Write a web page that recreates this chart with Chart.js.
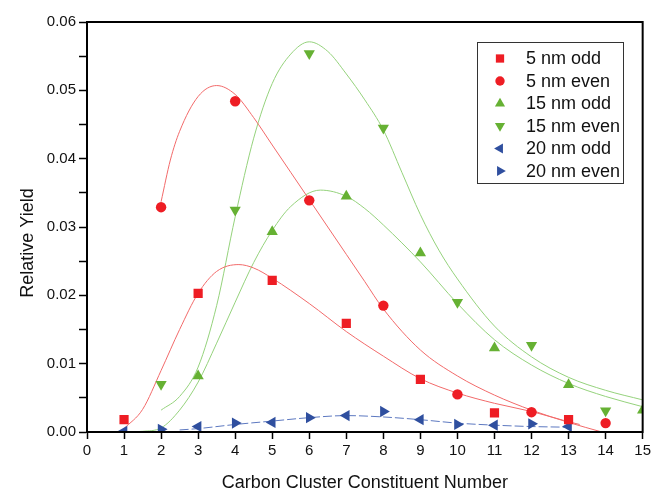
<!DOCTYPE html>
<html>
<head>
<meta charset="utf-8">
<script src="https://cdn.jsdelivr.net/npm/chart.js@4.4.0/dist/chart.umd.min.js"></script>
<style>
  html, body { margin: 0; padding: 0; background: #fff; }
</style>
</head>
<body>
<canvas id="chart" width="654" height="494"></canvas>
<script>
// --- measured points (cluster size n -> relative yield) ---
const n5Odd = [1, 3, 5, 7, 9, 11, 13];
const y5Odd = [0.0018, 0.0203, 0.0222, 0.0159, 0.0077, 0.0028, 0.0018];
const n5Even = [2, 4, 6, 8, 10, 12, 14];
const y5Even = [0.0329, 0.0484, 0.0339, 0.0185, 0.0055, 0.0029, 0.0013];
const n15Odd = [3, 5, 7, 9, 11, 13, 15];
const y15Odd = [0.0082, 0.0293, 0.0345, 0.0262, 0.0123, 0.0069, 0.0032];
const n15Even = [2, 4, 6, 8, 10, 12, 14];
const y15Even = [0.0070, 0.0325, 0.0554, 0.0445, 0.0190, 0.0127, 0.0031];
const n20Odd = [1, 3, 5, 7, 9, 11, 13];
const y20Odd = [0.0001, 0.0008, 0.0014, 0.0024, 0.0018, 0.0010, 0.0008];
const n20Even = [2, 4, 6, 8, 10, 12];
const y20Even = [0.0004, 0.0013, 0.0021, 0.0030, 0.0011, 0.0012];

// --- fitted curves ---
const fx5Odd = [1, 1.5, 2, 2.5, 3, 3.5, 4.1, 4.5, 5, 6, 7, 8, 9, 10, 11, 12, 13, 13.3];
const fy5Odd = [0.0005, 0.0033, 0.0090, 0.0150, 0.0203, 0.0235, 0.0245, 0.0240, 0.0225, 0.0188, 0.0147, 0.0111, 0.0078, 0.0057, 0.0042, 0.0030, 0.0015, 0.0011];
const fx5Even = [2, 2.25, 2.5, 3, 3.5, 4, 4.5, 5, 5.5, 6, 6.5, 7, 7.5, 8, 9, 10, 11, 12, 13, 13.9];
const fy5Even = [0.0337, 0.0398, 0.0440, 0.0491, 0.0507, 0.0494, 0.0460, 0.0420, 0.0380, 0.0340, 0.0300, 0.0260, 0.0220, 0.0180, 0.0120, 0.0082, 0.0054, 0.0032, 0.0014, 0.0000];
const fx15Odd = [1, 1.5, 2, 2.5, 3, 3.5, 4, 4.5, 5, 5.5, 6.3, 7, 7.5, 8, 9, 10, 11, 12, 13, 14, 15];
const fy15Odd = [0.0000, 0.0001, 0.0006, 0.0032, 0.0073, 0.0130, 0.0190, 0.0248, 0.0295, 0.0330, 0.0354, 0.0345, 0.0327, 0.0303, 0.0249, 0.0188, 0.0135, 0.0098, 0.0071, 0.0052, 0.0037];
const fx15Even = [2, 2.5, 3, 3.5, 4, 4.5, 5, 5.5, 6, 6.5, 7, 7.5, 8, 8.5, 9, 9.5, 10, 11, 12, 13, 14, 15];
const fy15Even = [0.0032, 0.0052, 0.0095, 0.0185, 0.0315, 0.0430, 0.0510, 0.0553, 0.0571, 0.0557, 0.0524, 0.0486, 0.0442, 0.0380, 0.0318, 0.0266, 0.0224, 0.0155, 0.0110, 0.0080, 0.0061, 0.0047];
const fx20 = [2.5, 3, 4, 5, 6, 7, 8, 9, 10, 11, 12, 13];
const fy20 = [0.0003, 0.0005, 0.0011, 0.0016, 0.0021, 0.0024, 0.0022, 0.0018, 0.0013, 0.0010, 0.0008, 0.0007];

const xTicks = [0, 15];
const yTicks = [0, 0.06];

const RED = '#ee1d24';
const GREEN = '#66b133';
const BLUE = '#2f4f9f';
const FONT = '"Liberation Sans", Arial, sans-serif';

const pts = (xs, ys) => xs.map((x, i) => ({ x: x, y: ys[i] }));

function markers(label, xs, ys, color, style, rot, r) {
    return {
        label: label, data: pts(xs, ys), showLine: false, order: 0,
        backgroundColor: color, borderColor: color, borderWidth: 0,
        pointStyle: style, rotation: rot, pointRadius: r
    };
}

function fitLine(xs, ys, color, dash) {
    return {
        data: pts(xs, ys), showLine: true, order: 1, isFit: true,
        borderColor: color, borderWidth: 1, borderDash: dash || [],
        pointRadius: 0, cubicInterpolationMode: 'monotone', fill: false
    };
}

const datasets = [
    markers('5 nm odd', n5Odd, y5Odd, RED, 'rect', 0, 6.5),
    markers('5 nm even', n5Even, y5Even, RED, 'circle', 0, 5.2),
    markers('15 nm odd', n15Odd, y15Odd, GREEN, 'triangle', 0, 6.5),
    markers('15 nm even', n15Even, y15Even, GREEN, 'triangle', 180, 6.5),
    markers('20 nm odd', n20Odd, y20Odd, BLUE, 'triangle', 270, 6.5),
    markers('20 nm even', n20Even, y20Even, BLUE, 'triangle', 90, 6.5),
    fitLine(fx5Odd, fy5Odd, '#f26a6a'),
    fitLine(fx5Even, fy5Even, '#f26a6a'),
    fitLine(fx15Odd, fy15Odd, '#95d27c'),
    fitLine(fx15Even, fy15Even, '#95d27c'),
    fitLine(fx20, fy20, '#5c78c0', [9, 3])
];

// frame round the plot + y title
const frame = {
    id: 'frame',
    afterDraw(chart) {
        const { ctx, chartArea: a } = chart;
        ctx.save();
        ctx.strokeStyle = '#000';
        ctx.lineWidth = 2;
        ctx.strokeRect(a.left, a.top, a.right - a.left, a.bottom - a.top);
        ctx.translate(28, 243);
        ctx.rotate(-Math.PI / 2);
        ctx.font = '18px ' + FONT;
        ctx.fillStyle = '#111';
        ctx.textAlign = 'center';
        ctx.textBaseline = 'middle';
        ctx.fillText('Relative Yield', 0, 0);
        ctx.restore();
    }
};

// legend inside the plot, top right
const legendBox = {
    id: 'legendBox',
    afterDraw(chart) {
        const { ctx, chartArea: a } = chart;
        const left = a.left + 390, top = a.top + 20, w = 146, h = 141;
        ctx.save();
        ctx.fillStyle = '#fff';
        ctx.fillRect(left, top, w, h);
        ctx.strokeStyle = '#333';
        ctx.lineWidth = 1;
        ctx.strokeRect(left + 0.5, top + 0.5, w, h);
        ctx.font = '18px ' + FONT;
        ctx.textBaseline = 'middle';
        chart.data.datasets.filter(d => !d.isFit).forEach((d, i) => {
            const y = top + 16.5 + i * 22.5;
            ctx.fillStyle = d.backgroundColor;
            Chart.helpers.drawPoint(ctx, { pointStyle: d.pointStyle, rotation: d.rotation, radius: d.pointRadius * 0.9, borderWidth: 0 }, left + 23, y);
            ctx.fillStyle = '#111';
            ctx.fillText(d.label, left + 49, y + 1);
        });
        ctx.restore();
    }
};

new Chart(document.getElementById('chart'), {
    type: 'scatter',
    data: { datasets: datasets },
    options: {
        responsive: false,
        animation: false,
        layout: { padding: { top: 22, right: 10, left: 0, bottom: 0 } },
        plugins: { legend: { display: false }, tooltip: { enabled: false } },
        scales: {
            x: {
                type: 'linear', min: xTicks[0], max: xTicks[1],
                afterFit: s => { s.height = 62; },
                ticks: { stepSize: 1, color: '#111', font: { family: FONT, size: 15 }, padding: 3 },
                grid: { drawOnChartArea: false, tickLength: 7, tickColor: '#000', tickWidth: 1.5 },
                border: { color: '#000', width: 2 },
                title: { display: true, text: 'Carbon Cluster Constituent Number', color: '#111', font: { family: FONT, size: 18 }, padding: { top: 0, bottom: 0 } }
            },
            y: {
                type: 'linear', min: yTicks[0], max: yTicks[1],
                afterFit: s => { s.width = 87; },
                ticks: {
                    stepSize: 0.005, color: '#111', font: { family: FONT, size: 15 }, padding: 3,
                    callback: v => (Math.round(v * 1000) % 10 === 0 ? v.toFixed(2) : '')
                },
                grid: { drawOnChartArea: false, tickLength: 8, tickColor: '#000', tickWidth: 1.5 },
                border: { color: '#000', width: 2 }
            }
        }
    },
    plugins: [frame, legendBox]
});
</script>
</body>
</html>
